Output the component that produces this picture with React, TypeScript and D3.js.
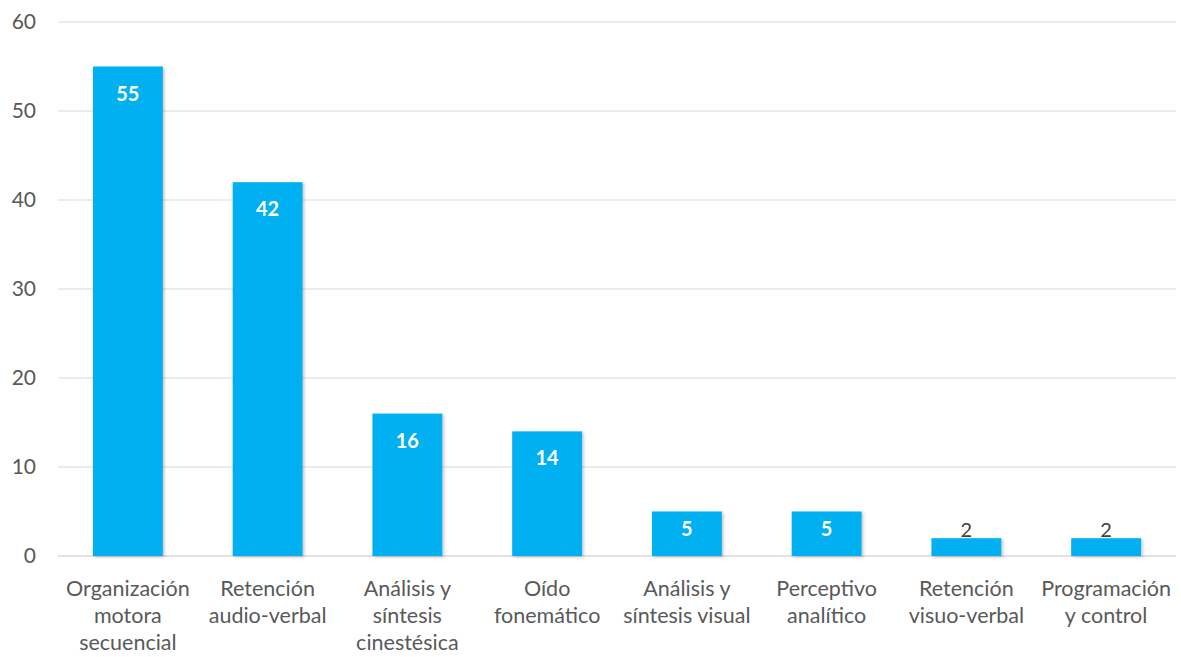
import React from "react";
import * as d3 from "d3";

const categories: string[][] = [
  ["Organización", "motora", "secuencial"],
  ["Retención", "audio-verbal"],
  ["Análisis y", "síntesis", "cinestésica"],
  ["Oído", "fonemático"],
  ["Análisis y", "síntesis visual"],
  ["Perceptivo", "analítico"],
  ["Retención", "visuo-verbal"],
  ["Programación", "y control"],
];
const values: number[] = [55, 42, 16, 14, 5, 5, 2, 2];
const yTicks: number[] = [0, 10, 20, 30, 40, 50, 60];

const W = 1181;
const H = 657;
const FONT = "Lato, 'Open Sans', sans-serif";

export default function App() {
  const x = d3
    .scaleBand<number>()
    .domain(values.map((_, i) => i))
    .range([58, 1176])
    .paddingInner(0.5)
    .paddingOuter(0.25);
  const y = d3.scaleLinear().domain([0, 60]).range([556, 22]);

  return (
    <svg
      width={W}
      height={H}
      style={{ position: "absolute", left: 0, top: 0, background: "#fff" }}
      fontFamily={FONT}
    >
      <defs>
        <filter id="sh" x="-10%" y="-10%" width="130%" height="130%">
          <feDropShadow dx="1.5" dy="1" stdDeviation="1.5" floodColor="#000" floodOpacity="0.25" />
        </filter>
      </defs>
      {yTicks.map((t) => (
        <g key={t}>
          <line x1={58} x2={1176} y1={y(t)} y2={y(t)} stroke="#d9d9d9" strokeWidth={t === 0 ? 1.5 : 1} />
          <text x={36} y={y(t)} dy="0.35em" textAnchor="end" fontSize={21} fill="#595959">
            {t}
          </text>
        </g>
      ))}
      {values.map((v, i) => {
        const bx = x(i)!;
        const bw = x.bandwidth();
        const top = y(v);
        const h = y(0) - top;
        const cx = bx + bw / 2;
        const inside = h > 30;
        const off = Math.min(27, h * 0.4);
        return (
          <g key={i}>
            <rect x={bx} y={top} width={bw} height={h} fill="#00b0f0" filter="url(#sh)" />
            {inside ? (
              <text x={cx} y={top + off} dy="0.35em" textAnchor="middle" fontSize={20} fontWeight="bold" fill="#fff">
                {v}
              </text>
            ) : (
              <text x={cx} y={top - 1} textAnchor="middle" fontSize={20} fill="#404040">
                {v}
              </text>
            )}
          </g>
        );
      })}
      {categories.map((lines, i) => (
        <text key={i} x={x(i)! + x.bandwidth() / 2} textAnchor="middle" fontSize={21.5} fill="#595959">
          {lines.map((l, j) => (
            <tspan key={j} x={x(i)! + x.bandwidth() / 2} y={596 + j * 27}>
              {l}
            </tspan>
          ))}
        </text>
      ))}
    </svg>
  );
}
